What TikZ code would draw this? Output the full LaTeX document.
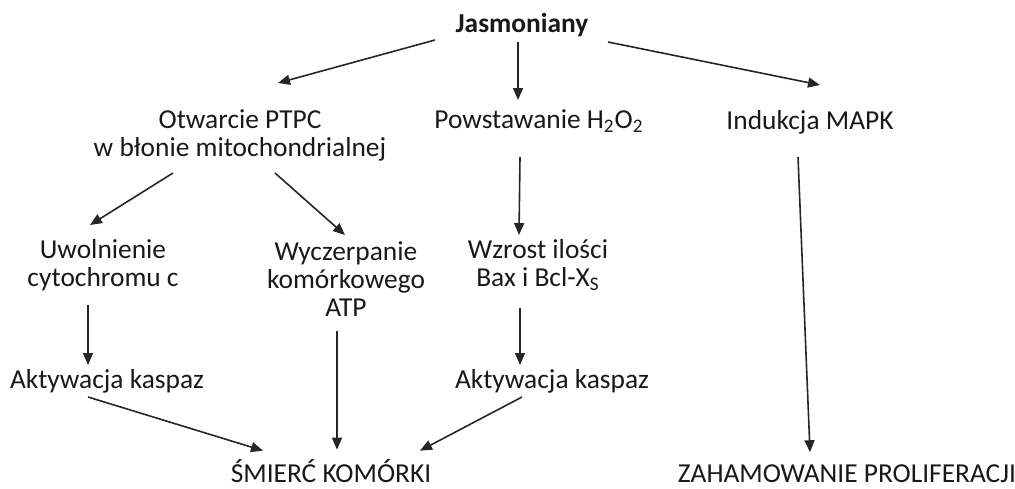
\documentclass[tikz,border=0pt]{standalone}
\usepackage{fontspec}
\setmainfont{Carlito}
\usetikzlibrary{arrows.meta,calc}

\tikzset{
    label/.style={align=center, inner sep=1pt, font=\fontsize{13.7}{14}\selectfont, text=black!90},
    outcome/.style={inner sep=0pt, anchor=base, font=\fontsize{13.7}{14}\selectfont, text=black!90},
    arr/.style={-{Triangle[length=6pt,width=5pt]}, line width=0.8pt, black!85}
}

\begin{document}
\begin{tikzpicture}[x=0.5pt, y=-0.5pt]
    \useasboundingbox (0,0) rectangle (1015,488);

    % Top level
    \node[label, font=\fontsize{13.7}{14}\selectfont\bfseries] (jas) at (522,25) {Jasmoniany};

    % Second level
    \node[label] (ptpc) at (240,135) {Otwarcie PTPC\\w błonie mitochondrialnej};
    \node[label] (hoo) at (539,121) {Powstawanie H\textsubscript{2}O\textsubscript{2}};
    \node[label] (mapk) at (810,122) {Indukcja MAPK};

    % Third level
    \node[label] (cyt) at (103,265) {Uwolnienie\\cytochromu c};
    \node[label] (atp) at (346,279) {Wyczerpanie\\komórkowego\\ATP};
    \node[label] (bax) at (538,265) {Wzrost ilości\\Bax i Bcl-X\textsubscript{S}};

    % Caspases
    \node[label] (kasL) at (107,381) {Aktywacja kaspaz};
    \node[label] (kasR) at (552,381) {Aktywacja kaspaz};

    % Outcomes
    \node[outcome] (smierc) at (331,482) {ŚMIERĆ KOMÓRKI};
    \node[outcome] (zaham) at (847,482) {ZAHAMOWANIE PROLIFERACJI};

    % Arrows from Jasmoniany
    \draw[arr] ($(jas)+(-87,15)$) -- ($(ptpc)+(38,-52)$);
    \draw[arr] ($(jas)+(-4,17)$) -- ($(hoo)+(-21,-21)$);
    \draw[arr] ($(jas)+(86,17)$) -- ($(mapk)+(10,-37)$);

    % Mitochondrial branch
    \draw[arr] ($(ptpc)+(-67,38)$) -- ($(cyt)+(-13,-40)$);
    \draw[arr] ($(ptpc)+(35,38)$) -- ($(atp)+(-1,-44)$);
    \draw[arr] ($(cyt)+(-15,40)$) -- ($(kasL)+(-19,-16)$);
    \draw[arr] ($(atp)+(-9,52)$) -- ($(smierc.center)+(6,-21)$);

    % H2O2 branch
    \draw[arr] ($(hoo)+(-19,36)$) -- ($(bax)+(-19,-30)$);
    \draw[arr] ($(bax)+(-18,43)$) -- ($(kasR)+(-32,-16)$);

    % Caspases to cell death
    \draw[arr] ($(kasL)+(-19,16)$) -- ($(smierc.center)+(-68,-20)$);
    \draw[arr] ($(kasR)+(-30,16)$) -- ($(smierc.center)+(89,-20)$);

    % MAPK branch
    \draw[arr] ($(mapk)+(-12,35)$) -- ($(zaham.center)+(-37,-21)$);
\end{tikzpicture}
\end{document}
